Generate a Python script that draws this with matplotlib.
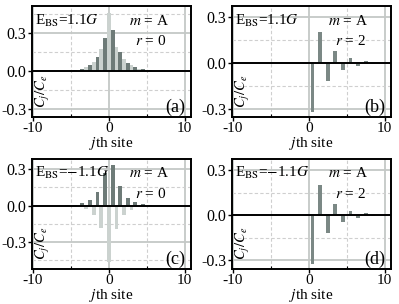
import numpy as np
import matplotlib
matplotlib.use("Agg")
import matplotlib.pyplot as plt
from matplotlib.ticker import MultipleLocator

plt.rcParams['font.family'] = ['Liberation Serif', 'DejaVu Serif']
plt.rcParams['mathtext.fontset'] = 'stix'
plt.rcParams['axes.unicode_minus'] = False

# site positions: light series on integer sites, dark series on half-integer sites
sites_light = [-6, -5, -4, -3, -2, -1, 0, 1, 2, 3, 4, 5, 6, 7]
sites_dark = [-5.5, -4.5, -3.5, -2.5, -1.5, -0.5, 0.5, 1.5, 2.5, 3.5, 4.5, 5.5, 6.5, 7.5, 8.5]

# (a) E_BS = 1.1G, r = 0
a_light = [0.003, 0.006, 0.012, 0.03, 0.07, 0.17, 0.455, 0.19, 0.095, 0.045, 0.02, 0.01, 0.004, 0.0]
a_dark = [0.002, 0.008, 0.02, 0.05, 0.11, 0.26, 0.32, 0.15, 0.065, 0.032, 0.015, 0.007, 0.003, 0.0, 0.0]

# (b) E_BS = 1.1G, r = 2
b_light = [0.0, 0.0, 0.0, 0.0, 0.0, 0.006, -0.004, 0.004, 0.0, 0.0, 0.0, 0.0, 0.0, 0.0]
b_dark = [0.0, 0.0, 0.0, 0.0, 0.0, -0.006, -0.325, 0.2, -0.12, 0.077, -0.047, 0.03, -0.018, 0.012, -0.008]

# (c) E_BS = -1.1G, r = 0
c_light = [0.0, -0.004, -0.01, -0.03, -0.075, -0.185, -0.465, -0.19, -0.08, -0.035, -0.012, -0.004, 0.0, 0.0]
c_dark = [0.003, 0.008, 0.02, 0.05, 0.11, 0.27, 0.335, 0.16, 0.065, 0.03, 0.012, 0.004, 0.0, 0.0, 0.0]

# (d) E_BS = -1.1G, r = 2
d_light = [0.0, 0.0, 0.0, 0.0, 0.0, 0.008, 0.01, 0.004, 0.0, 0.0, 0.0, 0.0, 0.0, 0.0]
d_dark = [0.0, 0.0, 0.0, 0.0, 0.0, -0.004, -0.325, 0.2, -0.12, 0.075, -0.047, 0.03, -0.018, 0.012, -0.008]

panels = [
    ('(a)', r'E$_{\rm BS}$=1.1$G$', '0', a_light, a_dark, (-0.36, 0.51), '#6e7b78'),
    ('(b)', r'E$_{\rm BS}$=1.1$G$', '2', b_light, b_dark, (-0.355, 0.372), '#7b8885'),
    ('(c)', r'E$_{\rm BS}$=$-$1.1$G$', '0', c_light, c_dark, (-0.52, 0.385), '#6e7b78'),
    ('(d)', r'E$_{\rm BS}$=$-$1.1$G$', '2', d_light, d_dark, (-0.355, 0.372), '#7b8885'),
]

# axes rectangles in figure fractions
rects = [
    [0.080, 0.615, 0.398, 0.365],
    [0.581, 0.615, 0.398, 0.365],
    [0.080, 0.116, 0.398, 0.361],
    [0.581, 0.116, 0.398, 0.361],
]

fig = plt.figure(figsize=(3.99, 3.04), dpi=100)

for (tag, etxt, r, light, dark, ylim, dcol), rect in zip(panels, rects):
    ax = fig.add_axes(rect)
    ax.set_xlim(-10.15, 10.8)
    ax.set_ylim(*ylim)

    ax.xaxis.set_major_locator(MultipleLocator(10))
    ax.xaxis.set_minor_locator(MultipleLocator(5))
    ax.yaxis.set_major_locator(MultipleLocator(0.3))
    ax.yaxis.set_minor_locator(MultipleLocator(0.15))
    ax.yaxis.set_major_formatter(matplotlib.ticker.FormatStrFormatter('%.1f'))

    ax.grid(which='major', color='#c4c8c6', lw=1.3, ls='-', zorder=0)
    ax.grid(which='minor', color='#cfcfcf', lw=0.8, ls=(0, (3, 2)), zorder=0)
    ax.set_axisbelow(True)

    ax.bar(sites_light, light, width=0.5, color='#cbd2cf', zorder=2)
    ax.bar(sites_dark, dark, width=0.5, color=dcol, zorder=2)
    ax.axhline(0, color='black', lw=1.4, zorder=3)

    for s in ax.spines.values():
        s.set_linewidth(1.4)
    ax.tick_params(which='major', direction='out', length=3, width=1, labelsize=11.5, pad=1)
    ax.tick_params(axis='x', which='major', labelsize=11, pad=0.5)
    ax.tick_params(which='minor', direction='in', length=2, width=0.8)
    ax.tick_params(axis='y', which='minor', length=0)

    ax.set_xlabel(r'$j$th site', fontsize=11, labelpad=0)

    ax.text(0.02, 0.87, etxt, transform=ax.transAxes, fontsize=11, ha='left', va='center')
    ax.text(0.735, 0.87, r'$m$ = A', transform=ax.transAxes, fontsize=11, ha='center', va='center')
    ax.text(0.745, 0.685, r'$r$ = ' + r, transform=ax.transAxes, fontsize=11, ha='center', va='center')
    ax.text(0.965, 0.085, tag, transform=ax.transAxes, fontsize=13, ha='right', va='center')
    ax.text(0.07, 0.23, r'$C_j/C_e$', transform=ax.transAxes, fontsize=10.5, rotation=90,
            ha='center', va='center')

fig.savefig('out.png', dpi=100)
